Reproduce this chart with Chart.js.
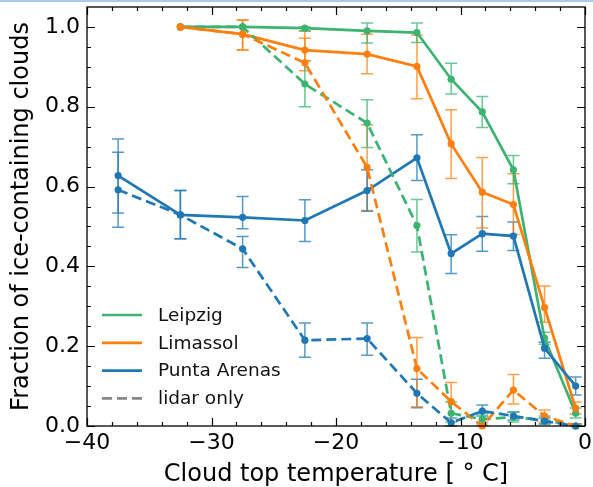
<!DOCTYPE html>
<html>
<head>
<meta charset="utf-8">
<script src="https://cdn.jsdelivr.net/npm/chart.js@4"></script>
<style>
  html, body { margin: 0; padding: 0; background: #fff; }
  #wrap { width: 593px; height: 487px; position: relative; }
</style>
</head>
<body>
<div id="wrap"><canvas id="chart"></canvas></div>
<script>
// cloud top temperature bins (deg C)
const temps = [-37.5, -32.5, -27.5, -22.5, -17.5, -13.5, -10.75, -8.25, -5.75, -3.25, -0.75];

const leipzig     = [null, 1.0, 1.0, 0.997, 0.99, 0.986, 0.869, 0.787, 0.642, 0.22, 0.032];
const leipzigLo   = [null, 1.0, 1.0, 0.99, 0.96, 0.961, 0.832, 0.748, 0.607, 0.205, 0.02];
const leipzigHi   = [null, 1.0, 1.0, 1.0, 1.01, 1.01, 0.909, 0.826, 0.678, 0.235, 0.045];

const leipzigLidar   = [null, 1.0, 1.0, 0.857, 0.759, 0.5025, 0.032, 0.017, 0.022, 0.015, 0.0];
const leipzigLidarLo = [null, 1.0, 1.0, 0.80, 0.698, 0.436, 0.01, 0.005, 0.01, 0.005, 0.0];
const leipzigLidarHi = [null, 1.0, 1.0, 0.915, 0.8175, 0.5675, 0.06, 0.03, 0.035, 0.025, 0.005];

const limassol   = [null, 1.0, 0.982, 0.942, 0.932, 0.901, 0.707, 0.586, 0.555, 0.297, 0.044];
const limassolLo = [null, 1.0, 0.9425, 0.915, 0.883, 0.82, 0.62, 0.496, 0.48, 0.26, 0.03];
const limassolHi = [null, 1.0, 1.0175, 0.972, 0.982, 0.98, 0.7925, 0.673, 0.632, 0.351, 0.06];

const limassolLidar   = [null, 1.0, 0.982, 0.91, 0.648, 0.144, 0.061, 0.0, 0.09, 0.025, 0.0];
const limassolLidarLo = [null, 1.0, 0.9425, 0.89, 0.54, 0.048, 0.0, 0.0, 0.055, 0.01, 0.0];
const limassolLidarHi = [null, 1.0, 1.0175, 0.99, 0.755, 0.222, 0.109, 0.01, 0.129, 0.04, 0.005];

const punta   = [0.6275, 0.529, 0.523, 0.515, 0.59, 0.672, 0.432, 0.482, 0.476, 0.195, 0.1];
const puntaLo = [0.498, 0.469, 0.494, 0.4625, 0.538, 0.615, 0.382, 0.438, 0.44, 0.17, 0.0775];
const puntaHi = [0.719, 0.59, 0.575, 0.567, 0.642, 0.73, 0.479, 0.525, 0.511, 0.21, 0.123];

const puntaLidar   = [0.592, 0.529, 0.444, 0.215, 0.219, 0.082, 0.008, 0.0375, 0.025, 0.012, 0.0];
const puntaLidarLo = [0.534, 0.469, 0.397, 0.172, 0.1775, 0.046, 0.0, 0.025, 0.015, 0.005, 0.0];
const puntaLidarHi = [0.686, 0.59, 0.475, 0.258, 0.258, 0.117, 0.02, 0.0525, 0.035, 0.02, 0.005];

const xTicks = [-40, -30, -20, -10, 0];
const yTicks = [0, 0.2, 0.4, 0.6, 0.8, 1.0];
const legendNames = ['Leipzig', 'Limassol', 'Punta Arenas', 'lidar only'];

const GREEN = '#3cb371';
const ORANGE = '#ff7f0e';
const BLUE = '#1f77b4';
const FONT = 'DejaVu Sans';
const DASH = [10, 5];

const toPoints = (ys) => temps.map((t, i) => ({ x: t, y: ys[i] }));

const makeSet = (label, ys, lo, hi, color, dashed) => ({
    label,
    data: toPoints(ys),
    errLo: lo,
    errHi: hi,
    borderColor: color,
    backgroundColor: color,
    borderWidth: 2.7,
    borderDash: dashed ? DASH : [],
    pointRadius: 3.6,
    pointBorderWidth: 0,
    pointBackgroundColor: color,
    tension: 0,
    spanGaps: false,
    clip: 8
});

const hexAlpha = (hex, a) => {
    const n = parseInt(hex.slice(1), 16);
    return `rgba(${(n >> 16) & 255}, ${(n >> 8) & 255}, ${n & 255}, ${a})`;
};

// error bars, drawn under the lines
const errorBars = {
    id: 'errorBars',
    beforeDatasetsDraw(chart) {
        const { ctx, scales: { x, y } } = chart;
        ctx.save();
        chart.data.datasets.forEach((ds) => {
            ctx.strokeStyle = hexAlpha(ds.borderColor, 0.75);
            ctx.lineWidth = 1.5;
            ds.data.forEach((p, i) => {
                if (p.y === null || ds.errLo[i] === null) return;
                const px = x.getPixelForValue(p.x);
                const y1 = y.getPixelForValue(ds.errLo[i]);
                const y2 = y.getPixelForValue(ds.errHi[i]);
                if (Math.abs(y1 - y2) < 1) return;
                ctx.beginPath();
                ctx.moveTo(px, y1); ctx.lineTo(px, y2);
                ctx.moveTo(px - 6, y1); ctx.lineTo(px + 6, y1);
                ctx.moveTo(px - 6, y2); ctx.lineTo(px + 6, y2);
                ctx.stroke();
            });
        });
        ctx.restore();
    }
};

// box, inward ticks on all sides, legend
const decorations = {
    id: 'decorations',
    afterDraw(chart) {
        const { ctx, chartArea: a, scales: { x, y } } = chart;
        ctx.save();
        ctx.fillStyle = '#a9cbe8';
        ctx.fillRect(0, 0, chart.width, 2);

        ctx.strokeStyle = '#000';
        ctx.lineWidth = 1.3;
        ctx.strokeRect(a.left, a.top, a.right - a.left, a.bottom - a.top);

        const tick = (v, len, axis) => {
            ctx.beginPath();
            if (axis === 'x') {
                const px = Math.round(x.getPixelForValue(v)) + 0.5;
                ctx.moveTo(px, a.bottom); ctx.lineTo(px, a.bottom - len);
                ctx.moveTo(px, a.top); ctx.lineTo(px, a.top + len);
            } else {
                const py = Math.round(y.getPixelForValue(v)) + 0.5;
                ctx.moveTo(a.left, py); ctx.lineTo(a.left + len, py);
                ctx.moveTo(a.right, py); ctx.lineTo(a.right - len, py);
            }
            ctx.stroke();
        };
        ctx.lineWidth = 1.2;
        for (let v = -40; v <= 0; v += 2) tick(v, v % 10 === 0 ? 8 : 4, 'x');
        for (let k = 0; k <= 20; k++) tick(k * 0.05, k % 4 === 0 ? 8 : 4, 'y');

        // legend
        const colors = [GREEN, ORANGE, BLUE, '#888888'];
        ctx.font = `18.5px "${FONT}"`;
        ctx.textBaseline = 'middle';
        legendNames.forEach((name, i) => {
            const cy = a.top + 308 + i * 27.8;
            ctx.strokeStyle = colors[i];
            ctx.lineWidth = 2.7;
            ctx.setLineDash(i === 3 ? DASH : []);
            ctx.beginPath();
            ctx.moveTo(a.left + 15, cy); ctx.lineTo(a.left + 55, cy);
            ctx.stroke();
            ctx.setLineDash([]);
            ctx.fillStyle = '#111';
            ctx.fillText(name, a.left + 71, cy + 1);
        });
        ctx.restore();
    }
};

const chart = new Chart(document.getElementById('chart'), {
    type: 'line',
    data: {
        datasets: [
            makeSet('Punta Arenas lidar', puntaLidar, puntaLidarLo, puntaLidarHi, BLUE, true),
            makeSet('Limassol lidar', limassolLidar, limassolLidarLo, limassolLidarHi, ORANGE, true),
            makeSet('Leipzig lidar', leipzigLidar, leipzigLidarLo, leipzigLidarHi, GREEN, true),
            makeSet('Punta Arenas', punta, puntaLo, puntaHi, BLUE, false),
            makeSet('Limassol', limassol, limassolLo, limassolHi, ORANGE, false),
            makeSet('Leipzig', leipzig, leipzigLo, leipzigHi, GREEN, false)
        ]
    },
    options: {
        responsive: true,
        maintainAspectRatio: false,
        animation: false,
        layout: { padding: { top: 7, right: 8, left: 0, bottom: 0 } },
        plugins: { legend: { display: false }, tooltip: { enabled: false } },
        scales: {
            x: {
                type: 'linear',
                min: -40,
                max: 0,
                afterBuildTicks: (s) => { s.ticks = xTicks.map(v => ({ value: v })); },
                afterFit: (s) => { s.height = 61; s.paddingLeft = 0; s.paddingRight = 0; },
                grid: { display: false, drawTicks: false },
                border: { display: false },
                ticks: {
                    padding: 4,
                    color: '#000',
                    font: { family: FONT, size: 22 },
                    callback: (v) => (v < 0 ? '\u2212' + Math.abs(v) : String(v))
                },
                title: {
                    display: true,
                    text: 'Cloud top temperature [ \u00b0 C]',
                    color: '#000',
                    font: { family: FONT, size: 24, lineHeight: 1.0 },
                    padding: { top: 0, bottom: 0 }
                }
            },
            y: {
                type: 'linear',
                min: 0,
                max: 1.05,
                afterBuildTicks: (s) => { s.ticks = yTicks.map(v => ({ value: v })); },
                afterFit: (s) => { s.width = 87; s.paddingTop = 0; s.paddingBottom = 0; },
                grid: { display: false, drawTicks: false },
                border: { display: false },
                ticks: {
                    padding: 7,
                    color: '#000',
                    font: { family: FONT, size: 22 },
                    callback: (v) => v.toFixed(1)
                },
                title: {
                    display: true,
                    text: 'Fraction of ice-containing clouds',
                    color: '#000',
                    font: { family: FONT, size: 24, lineHeight: 1.0 },
                    padding: { top: 10, bottom: 0 }
                }
            }
        }
    },
    plugins: [errorBars, decorations]
});
</script>
</body>
</html>
